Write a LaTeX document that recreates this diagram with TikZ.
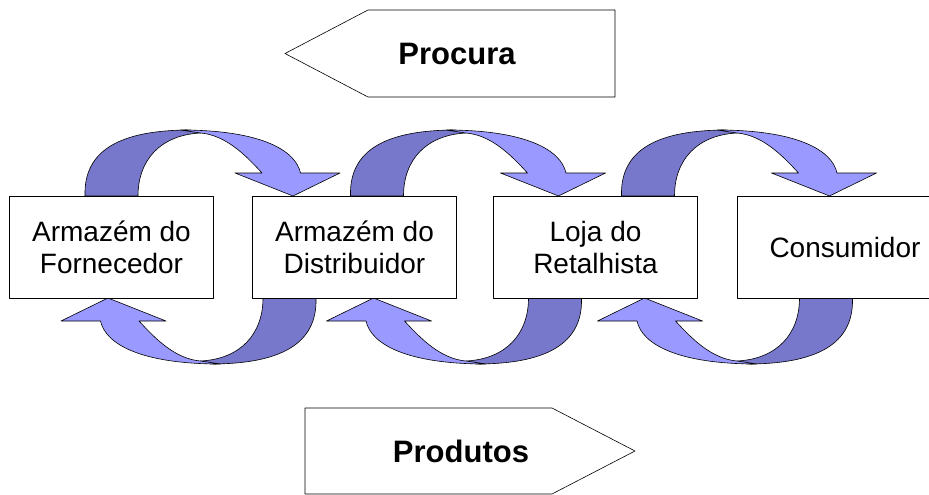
\documentclass[tikz,border=0pt]{standalone}
\usepackage{fontspec}
\setmainfont{Liberation Sans}
\usepackage{tikz}

\definecolor{escuro}{RGB}{119,119,204}
\definecolor{claro}{RGB}{153,153,255}
% meia volta (seta curva de cima), centrada em x=0
\newcommand{\ciclo}{%
	\filldraw[fill=escuro] (-115.5,196) .. controls (-117,150) and (-80,130) .. (-10,130) -- (0,133) .. controls (-40,135) and (-62.5,160) .. (-62.5,196) -- cycle;
	\filldraw[fill=claro] (-20,130) .. controls (60,130) and (95,150) .. (100,173) -- (139.5,173) -- (92.5,196) -- (34.5,173) -- (61.5,173) .. controls (45,155) and (25,135) .. (0,133) -- cycle;
}

\begin{document}
\begin{tikzpicture}[x=1pt,y=-1pt,line join=round,line width=0.6pt]
					\clip (0,0) rectangle (929,495);
					\tikzstyle{every node}=[font=\fontsize{28}{32}\selectfont];
					\tikzstyle{caixa}=[draw,fill=white,minimum width=204pt,minimum height=102pt,align=center,inner sep=0pt];
					\tikzstyle{titulo}=[font=\bfseries\fontsize{31}{36}\selectfont];
					% procura
					\draw (285,53.5) -- (368,10) -- (615,10) -- (615,97) -- (368,97) -- cycle;
					\path (457,53.5) node[titulo] (v4) {Procura};
					% produtos
					\draw (305,408) -- (552,408) -- (635,451) -- (552,494) -- (305,494) -- cycle;
					\path (461,451) node[titulo] (v5) {Produtos};
					% setas curvas
					\foreach \cx in {200.5,466,737} {
						\begin{scope}[shift={(\cx,0)}] \ciclo \end{scope}
						\begin{scope}[shift={(\cx,0)},rotate around={180:(0,247)}] \ciclo \end{scope}
					}
					% caixas
					\path (111.5,247) node[caixa] (v0) {Armazém do\\Fornecedor};
					\path (354.5,247) node[caixa] (v1) {Armazém do\\Distribuidor};
					\path (595.5,247) node[caixa] (v2) {Loja do\\Retalhista};
					\path (845,247) node[caixa,minimum width=216pt] (v3) {Consumidor};
					\end{tikzpicture}
\end{document}
